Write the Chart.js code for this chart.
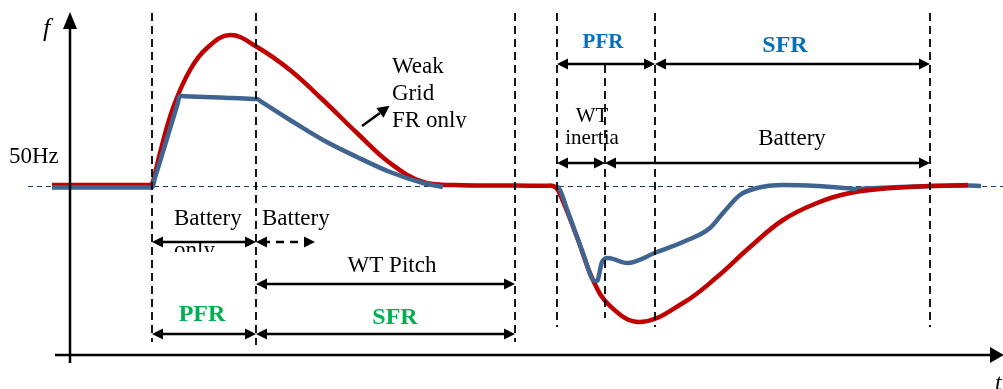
<!DOCTYPE html>
<html>
<head>
<meta charset="utf-8">
<script src="https://cdn.jsdelivr.net/npm/chart.js@4.4.1/dist/chart.umd.min.js"></script>
<style>
  html, body { margin: 0; padding: 0; background: #ffffff; }
  canvas { display: block; }
</style>
</head>
<body>
<canvas id="c" width="1003" height="389"></canvas>
<script>
// ---- Data (time in schematic units, frequency deviation from 50 Hz in schematic units) ----
const redTime = [52,100,150,152,160,173,190,207,230,257,290,323,357,390,423,455,515,545,553,558,577,593,610,640,683,717,750,783,817,850,900,968];
const redFreq = [1,1,1,1,33,78,116,138,151,139,116,86,53,23,4,1,0.5,0.2,0,-4,-51,-94,-120,-136,-117,-91,-61,-34,-17,-7,-1.5,1];

const blueTime = [52,152,155,160,165,170,175,177,180,184,220,253,257,262,290,323,357,390,423,443,500,557,560,568,577,585,593,597,602,608,627,657,683,710,723,740,757,783,817,857,900,930,968,981];
const blueFreq = [-1.5,-1.5,8.3,24.6,40.9,57.3,73.6,80.1,90,89.8,88.5,87.1,87,83.8,66,46,29,14,3,-1,null,0,-4,-26,-51,-73,-94,-95,-76,-72,-77,-66,-56,-42,-27,-9,-2,1,0,-3,-1,0,0.5,0];

// phase boundaries (time)
const phaseTimes = [152, 256, 515, 557, 605, 655, 930];
const blueSplit = 857;

const pts = (t, f, keep) => t.map((x, i) => ({x: x, y: f[i]})).filter(p => keep(p.x));

const annotations = {
  id: 'schematic',
  beforeDatasetsDraw(chart) {
    const ctx = chart.ctx;
    const Y0 = chart.scales.y.getPixelForValue(0);
    ctx.save();
    ctx.strokeStyle = '#1F3864';
    ctx.lineWidth = 1;
    ctx.setLineDash([5, 4]);
    ctx.beginPath();
    ctx.moveTo(28, Y0 + 0.5);
    ctx.lineTo(1003, Y0 + 0.5);
    ctx.stroke();
    ctx.restore();
  },
  afterDatasetsDraw(chart) {
    const ctx = chart.ctx;
    const X = v => chart.scales.x.getPixelForValue(v);
    const serif = '"Liberation Serif", "Times New Roman", serif';

    // axes
    ctx.save();
    ctx.strokeStyle = '#000'; ctx.fillStyle = '#000';
    ctx.lineWidth = 2.5;
    ctx.beginPath(); ctx.moveTo(70, 363); ctx.lineTo(70, 26); ctx.stroke();
    ctx.beginPath(); ctx.moveTo(70, 12); ctx.lineTo(77, 29); ctx.lineTo(63, 29); ctx.closePath(); ctx.fill();
    ctx.beginPath(); ctx.moveTo(55, 355); ctx.lineTo(993, 355); ctx.stroke();
    ctx.beginPath(); ctx.moveTo(1004, 355); ctx.lineTo(990, 347); ctx.lineTo(990, 363); ctx.closePath(); ctx.fill();
    ctx.restore();

    // vertical dashed phase lines
    const vExt = [[13,342],[13,345],[13,342],[13,327],[65,318],[13,327],[13,327]];
    ctx.save();
    ctx.strokeStyle = '#000'; ctx.lineWidth = 1.8; ctx.setLineDash([8, 5]);
    phaseTimes.forEach((t, i) => {
      ctx.beginPath(); ctx.moveTo(X(t), vExt[i][0]); ctx.lineTo(X(t), vExt[i][1]); ctx.stroke();
    });
    ctx.restore();

    function head(x, y, dir) {
      ctx.beginPath();
      ctx.moveTo(x, y);
      ctx.lineTo(x - dir * 11, y - 5.5);
      ctx.lineTo(x - dir * 11, y + 5.5);
      ctx.closePath(); ctx.fill();
    }
    function arrow(x1, x2, y, dashed) {
      ctx.save();
      ctx.strokeStyle = '#000'; ctx.fillStyle = '#000'; ctx.lineWidth = 2.5;
      if (dashed) ctx.setLineDash([8, 6]);
      ctx.beginPath(); ctx.moveTo(x1 + 6, y); ctx.lineTo(x2 - 6, y); ctx.stroke();
      ctx.setLineDash([]);
      head(x1, y, -1); head(x2, y, 1);
      ctx.restore();
    }
    function text(s, x, y, font, color, align) {
      ctx.save();
      ctx.font = font; ctx.fillStyle = color || '#000';
      ctx.textAlign = align || 'left'; ctx.textBaseline = 'alphabetic';
      ctx.fillText(s, x, y);
      ctx.restore();
    }
    function clippedText(s, x, y, font, clipY) {
      ctx.save();
      ctx.beginPath(); ctx.rect(x - 5, 0, 200, clipY); ctx.clip();
      text(s, x, y, font);
      ctx.restore();
    }

    const f23 = '23px ' + serif;
    const f21 = '21px ' + serif;

    // axis labels
    text('f', 43, 36, 'italic 26px ' + serif);
    text('t', 995, 390, 'italic 24px ' + serif);
    text('50Hz', 9, 163, '23px ' + serif);

    // Weak grid note
    text('Weak', 392, 73, f23);
    text('Grid', 392, 100, f23);
    clippedText('FR only', 392, 127, f23, 128);
    ctx.save();
    ctx.strokeStyle = '#000'; ctx.fillStyle = '#000'; ctx.lineWidth = 2.5;
    ctx.beginPath(); ctx.moveTo(362, 126); ctx.lineTo(380, 113); ctx.stroke();
    ctx.translate(388, 107); ctx.rotate(Math.atan2(-19, 26));
    ctx.beginPath(); ctx.moveTo(2, 0); ctx.lineTo(-10, -6); ctx.lineTo(-10, 6); ctx.closePath(); ctx.fill();
    ctx.restore();

    // right event (under-frequency)
    text('PFR', 603, 48, 'bold 21px ' + serif, '#0070C0', 'center');
    text('SFR', 785, 52, 'bold 24px ' + serif, '#0070C0', 'center');
    arrow(X(557), X(655), 64);
    arrow(X(655), X(930), 64);
    text('WT', 592, 122, f21, '#000', 'center');
    text('inertia', 592, 144, f21, '#000', 'center');
    text('Battery', 792, 145, f23, '#000', 'center');
    arrow(X(557), X(605), 163);
    arrow(X(605), X(930), 163);

    // left event (over-frequency)
    text('Battery', 174, 225, f23);
    clippedText('only', 174, 257, f23, 252);
    text('Battery', 262, 225, f23);
    arrow(X(152), X(256), 242);
    arrow(X(256), 315, 242, true);
    text('WT Pitch', 392, 272, f23, '#000', 'center');
    arrow(X(256), X(515), 284);
    text('PFR', 202, 321, 'bold 24px ' + serif, '#00B050', 'center');
    text('SFR', 395, 324, 'bold 24px ' + serif, '#00B050', 'center');
    arrow(X(152), X(256), 334);
    arrow(X(256), X(515), 334);
  }
};

const RED = '#C00000';
const BLUE = '#406490';

new Chart(document.getElementById('c'), {
  type: 'line',
  data: {
    datasets: [
      { label: 'Weak grid (tail)', data: pts(blueTime, blueFreq, x => x >= blueSplit), borderColor: BLUE, borderWidth: 4.5, order: 3 },
      { label: 'Weak grid FR only', data: pts(redTime, redFreq, () => true), borderColor: RED, borderWidth: 4.5, order: 2,
        cubicInterpolationMode: 'default', tension: 0.4 },
      { label: 'With battery + WT', data: pts(blueTime, blueFreq, x => x <= blueSplit), borderColor: BLUE, borderWidth: 4.5, order: 1 }
    ]
  },
  options: {
    responsive: false,
    devicePixelRatio: 1,
    animation: false,
    layout: { padding: 0 },
    elements: {
      point: { radius: 0 },
      line: { cubicInterpolationMode: 'monotone', borderCapStyle: 'butt', borderJoinStyle: 'round', fill: false }
    },
    datasets: { line: { spanGaps: false, clip: false } },
    plugins: { legend: { display: false }, tooltip: { enabled: false } },
    scales: {
      x: { type: 'linear', min: 0, max: 1003, display: false },
      y: { type: 'linear', min: -203, max: 186, display: false }
    }
  },
  plugins: [annotations]
});
</script>
</body>
</html>
